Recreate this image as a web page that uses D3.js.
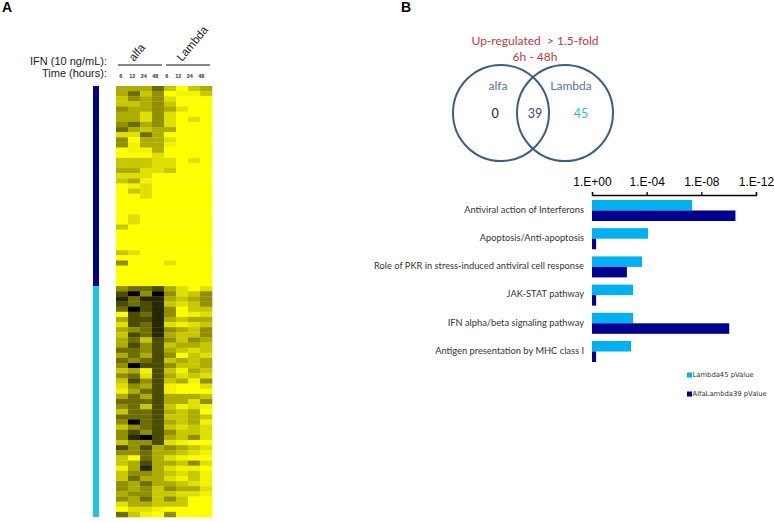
<!DOCTYPE html>
<html>
<head>
<meta charset="utf-8">
<script src="https://cdn.jsdelivr.net/npm/d3@7"></script>
<style>
  html, body { margin: 0; padding: 0; background: #fff; }
  svg { display: block; }
</style>
</head>
<body>
<svg id="chart" width="774" height="522"></svg>
<script>
// ---------------- DATA ----------------
// Panel A heatmap: expression intensity level (0 = yellow/low, 9 = black/high)
const treatments = ["alfa", "Lambda"];
const timeLabels = ["6", "12", "24", "48", "6", "12", "24", "48"];
const upperGenes = [ // 39 genes (dark-blue bar)
  [4,4,4,6,3,0,3,4],[4,6,3,5,0,1,1,3],[3,5,4,5,2,0,0,0],[3,3,4,5,3,0,0,0],
  [5,4,4,5,4,2,0,0],[4,4,2,5,2,0,0,0],[4,4,2,5,2,0,2,0],[5,6,4,5,2,0,0,0],
  [6,4,3,4,4,0,0,0],[2,2,6,4,0,0,0,0],[5,0,4,4,2,0,0,0],[5,1,4,4,1,0,0,0],
  [0,1,1,4,0,0,0,0],[0,0,0,2,0,0,0,0],[3,3,3,2,2,0,2,0],[3,3,3,2,2,0,0,0],
  [4,4,2,2,3,0,0,0],[2,2,2,0,0,0,0,0],[3,4,1,0,0,0,0,0],[0,1,2,0,0,0,0,0],
  [0,3,2,0,0,0,0,0],[0,0,2,0,0,0,0,0],[0,0,0,0,0,0,0,0],[0,0,0,0,0,0,0,0],
  [0,0,0,0,0,0,0,0],[0,2,0,0,0,0,0,0],[0,2,0,0,0,0,0,0],[3,0,0,0,0,0,0,0],
  [0,0,0,0,0,0,0,0],[0,0,0,0,0,0,0,0],[0,0,0,0,0,0,0,0],[0,0,0,0,0,0,0,0],
  [3,2,0,0,0,0,0,0],[0,0,0,0,0,0,0,0],[5,0,0,0,2,0,0,0],[0,0,0,0,0,0,0,0],
  [0,0,0,0,0,0,0,0],[0,0,0,0,0,0,0,0],[0,0,0,0,0,0,0,0]
];
const lowerGenes = [ // 45 genes (cyan bar)
  [5,6,6,7,4,2,0,2],[7,9,5,9,5,2,3,5],[8,6,8,8,4,3,4,5],[7,6,7,8,3,2,3,5],
  [6,9,7,8,5,0,3,3],[0,7,6,8,5,0,1,2],[4,7,7,8,4,3,4,4],[2,7,6,8,2,1,2,3],
  [4,5,6,8,5,4,3,5],[3,7,6,8,4,3,3,5],[4,6,3,7,5,3,5,4],[4,7,5,7,3,4,4,3],
  [6,6,5,7,4,3,2,3],[4,6,4,7,5,0,3,2],[6,5,6,7,3,4,3,4],[5,9,7,7,5,3,3,4],
  [3,4,1,7,3,1,4,3],[5,6,2,7,4,2,3,2],[3,7,5,7,3,4,1,5],[2,5,4,7,1,0,0,2],
  [1,4,6,7,1,0,0,0],[4,6,4,7,4,4,4,3],[6,6,6,7,4,4,2,5],[5,6,3,7,3,1,2,1],
  [3,6,6,7,4,3,4,0],[6,6,6,7,3,3,4,3],[5,9,6,7,4,3,4,1],[3,5,6,7,3,2,3,2],
  [5,7,5,7,5,3,3,2],[5,8,9,7,4,3,5,2],[3,5,5,7,2,1,0,0],[7,5,7,4,5,4,3,2],
  [5,5,6,4,4,3,2,1],[3,0,6,4,2,1,0,0],[3,4,7,4,4,3,5,2],[1,4,8,4,2,1,1,0],
  [3,5,5,4,3,2,3,1],[3,6,4,4,2,1,3,1],[5,4,6,4,4,3,2,1],[5,4,5,3,5,4,4,2],
  [4,5,5,3,3,2,2,1],[5,4,6,3,5,3,0,0],[2,4,4,3,3,3,0,0],[0,2,2,1,0,0,0,0],
  [6,3,1,0,5,0,0,0]
];

// Panel B Venn
const vennTitle = ["Up-regulated  > 1.5-fold", "6h - 48h"];
const vennSets = ["alfa", "Lambda"];
const vennCounts = [0, 39, 45]; // alfa only, both, Lambda only

// Panel B bar chart (p-values)
const pathways = [
  "Antiviral action of Interferons",
  "Apoptosis/Anti-apoptosis",
  "Role of PKR in stress-induced antiviral cell response",
  "JAK-STAT pathway",
  "IFN alpha/beta signaling pathway",
  "Antigen presentation by MHC class I"
];
const seriesNames = ["Lambda45 pValue", "AlfaLambda39 pValue"];
const lambda45P = [4.7e-8, 7.9e-5, 2.2e-4, 1.0e-3, 1.0e-3, 1.4e-3];
const alfaLambda39P = [3.2e-11, 0.5, 2.8e-3, 0.5, 9.1e-11, 0.5];
const pTicks = [1, 1e-4, 1e-8, 1e-12];
const pTickLabels = ["1.E+00", "1.E-04", "1.E-08", "1.E-12"];

// ---------------- DRAWING ----------------
const svg = d3.select("#chart");
const ARIAL = "'Liberation Sans', Arial, sans-serif";
const CAL = "Lato, 'Open Sans', sans-serif";
const SMALL = "'DejaVu Sans', Verdana, sans-serif";

// Panel letters
svg.append("text").attr("x", 2).attr("y", 12).text("A")
  .attr("font-family", ARIAL).attr("font-weight", "bold").attr("font-size", 14);
svg.append("text").attr("x", 401).attr("y", 12).text("B")
  .attr("font-family", ARIAL).attr("font-weight", "bold").attr("font-size", 14);

// ---- Heatmap ----
const genes = upperGenes.concat(lowerGenes);
const colX = d3.scaleBand().domain(d3.range(8)).range([116, 212]);
const rowY = d3.scaleBand().domain(d3.range(genes.length)).range([86, 517]);
const heatT = d3.scalePow().exponent(1.4).domain([0, 9]).range([0, 1]);
const heatColor = v => d3.interpolateRgb("#ffff00", "#000000")(heatT(v));

const cells = [];
genes.forEach((row, r) => row.forEach((v, c) => cells.push({r, c, v})));
svg.append("g").selectAll("rect").data(cells).join("rect")
  .attr("x", d => colX(d.c))
  .attr("y", d => rowY(d.r))
  .attr("width", colX.bandwidth() + 0.3)
  .attr("height", rowY.bandwidth() + 0.3)
  .attr("fill", d => heatColor(d.v));

// side cluster bar
const clusters = [
  {start: 0, end: upperGenes.length - 1, color: "#00008b"},
  {start: upperGenes.length, end: genes.length - 1, color: "#1ec8d4"}
];
svg.append("g").selectAll("rect").data(clusters).join("rect")
  .attr("x", 93).attr("width", 6)
  .attr("y", d => rowY(d.start))
  .attr("height", d => rowY(d.end) + rowY.bandwidth() - rowY(d.start))
  .attr("fill", d => d.color);

// header
svg.append("text").attr("x", 107).attr("y", 65).attr("text-anchor", "end")
  .attr("font-family", ARIAL).attr("font-size", 11).attr("fill", "#222")
  .text("IFN (10 ng/mL):");
svg.append("text").attr("x", 107).attr("y", 77).attr("text-anchor", "end")
  .attr("font-family", ARIAL).attr("font-size", 11).attr("fill", "#222")
  .text("Time (hours):");

treatments.forEach((t, i) => {
  const x0 = colX(i * 4) + 2, x1 = colX(i * 4 + 3) + colX.bandwidth() - 2;
  svg.append("line").attr("x1", x0).attr("x2", x1).attr("y1", 65).attr("y2", 65)
    .attr("stroke", "#111").attr("stroke-width", 1);
  const cx = (x0 + x1) / 2 - 6;
  svg.append("text").attr("transform", `translate(${cx},62) rotate(-50)`)
    .attr("font-family", ARIAL).attr("font-size", 11.5).attr("fill", "#222").text(t);
});
const timeX = d3.scaleBand().domain(d3.range(8)).range([115, 207]);
svg.append("g").selectAll("text").data(timeLabels).join("text")
  .attr("x", (d, i) => timeX(i) + timeX.bandwidth() / 2)
  .attr("y", 78).attr("text-anchor", "middle")
  .attr("font-family", ARIAL).attr("font-size", 5.5).attr("font-weight", "bold").attr("fill", "#333")
  .text(d => d);

// ---- Venn ----
const vennR = 48, vennCy = 113;
const vennCx = d3.scalePoint().domain(vennSets).range([501, 565]);
svg.append("g").selectAll("circle").data(vennSets).join("circle")
  .attr("cx", d => vennCx(d)).attr("cy", vennCy).attr("r", vennR)
  .attr("fill", "none").attr("stroke", "#3d5c86").attr("stroke-width", 2);
vennTitle.forEach((t, i) => {
  svg.append("text").attr("x", 535).attr("y", 45 + i * 16).attr("text-anchor", "middle")
    .attr("font-family", CAL).attr("font-size", 12).attr("fill", "#c0393b")
    .style("white-space", "pre").text(t);
});
svg.append("text").attr("x", vennCx("alfa") - 3).attr("y", 90).attr("text-anchor", "middle")
  .attr("font-family", CAL).attr("font-size", 12).attr("fill", "#5473a6").text("alfa");
svg.append("text").attr("x", vennCx("Lambda") + 6).attr("y", 90).attr("text-anchor", "middle")
  .attr("font-family", CAL).attr("font-size", 12).attr("fill", "#5473a6").text("Lambda");
const countPos = [vennCx("alfa") - 6, (vennCx("alfa") + vennCx("Lambda")) / 2 + 2, vennCx("Lambda") + 16];
const countCol = ["#222", "#4a3b8f", "#35b3e6"];
vennCounts.forEach((c, i) => {
  svg.append("text").attr("x", countPos[i]).attr("y", 118).attr("text-anchor", "middle")
    .attr("font-family", CAL).attr("font-size", 12.5).attr("fill", countCol[i]).text(c);
});

// ---- Bar chart ----
const xP = d3.scaleLog().domain([1, 1e-12]).range([592, 756]);
const yCat = d3.scaleBand().domain(pathways).range([196.4, 365.6]).paddingInner(0.255).paddingOuter(0.1275);
const ySer = d3.scaleBand().domain(seriesNames).range([0, yCat.bandwidth()]);
const serColor = d3.scaleOrdinal().domain(seriesNames).range(["#00b0f0", "#000090"]);

const axisY = 195;
const axis = d3.axisTop(xP).tickValues(pTicks)
  .tickFormat((d, i) => pTickLabels[i]).tickSize(3).tickPadding(6);
const axG = svg.append("g").attr("transform", `translate(0,${axisY})`).call(axis);
axG.select(".domain").attr("stroke", "#000").attr("stroke-width", 1.3);
axG.selectAll(".tick line").attr("stroke", "#000").attr("stroke-width", 1.3);
axG.selectAll(".tick text").attr("font-family", ARIAL).attr("font-size", 12).attr("fill", "#000");
axG.attr("font-family", ARIAL);

const barData = [];
pathways.forEach((p, i) => {
  barData.push({cat: p, s: seriesNames[0], v: lambda45P[i]});
  barData.push({cat: p, s: seriesNames[1], v: alfaLambda39P[i]});
});
svg.append("g").selectAll("rect").data(barData).join("rect")
  .attr("x", xP(1))
  .attr("y", d => yCat(d.cat) + ySer(d.s))
  .attr("width", d => xP(d.v) - xP(1))
  .attr("height", ySer.bandwidth())
  .attr("fill", d => serColor(d.s));

svg.append("g").selectAll("text").data(pathways).join("text")
  .attr("x", 584)
  .attr("y", d => yCat(d) + yCat.bandwidth() / 2 - 1)
  .attr("dy", "0.35em")
  .attr("text-anchor", "end")
  .attr("font-family", CAL).attr("font-size", 9.3).attr("fill", "#333")
  .text(d => d);

// legend
const legY = d3.scalePoint().domain(seriesNames).range([375, 394]);
const leg = svg.append("g").selectAll("g").data(seriesNames).join("g")
  .attr("transform", d => `translate(687,${legY(d)})`);
leg.append("rect").attr("x", 0).attr("y", -2.5).attr("width", 5).attr("height", 5)
  .attr("fill", d => serColor(d));
leg.append("text").attr("x", 5.5).attr("y", 0).attr("dy", "0.35em")
  .attr("font-family", SMALL).attr("font-size", 6.8).attr("fill", "#333").text(d => d);
</script>
</body>
</html>
